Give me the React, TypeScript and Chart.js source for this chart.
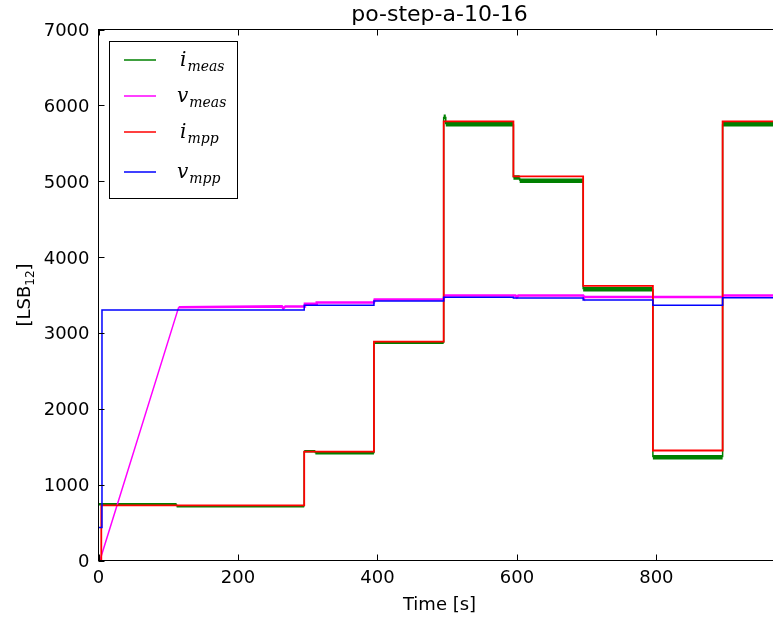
import React, { useEffect, useRef } from "react";
import { Chart, registerables } from "chart.js";

Chart.register(...registerables);

const TITLE = "po-step-a-10-16";
const X_LABEL = "Time [s]";
const X_MAX = 978;
const Y_MAX = 7000;
const X_TICKS = [0, 200, 400, 600, 800, 1000];
const Y_TICKS = [0, 1000, 2000, 3000, 4000, 5000, 6000, 7000];

// i_meas (green), step changes: value holds from time t onward
const iMeasT = [0, 112, 295, 311, 395, 495, 498, 595, 604, 695, 795, 895, 978];
const iMeasV = [740, 715, 1440, 1415, 2870, 5850, 5750, 5050, 5005, 3575, 1360, 5750, 5750];

// v_meas (magenta), polyline
const vMeasT = [0, 2, 115, 263, 265, 268, 295, 296, 312, 313, 395, 396, 495, 496, 598, 600, 602, 695, 696, 895, 896, 978];
const vMeasV = [0, 0, 3340, 3350, 3325, 3350, 3350, 3385, 3385, 3400, 3400, 3440, 3440, 3492, 3492, 3470, 3492, 3492, 3475, 3475, 3495, 3495];

// i_mpp (red), step changes
const iMppT = [0, 4, 295, 395, 495, 595, 695, 795, 895, 978];
const iMppV = [0, 726, 1436, 2885, 5790, 5065, 3620, 1450, 5790, 5790];

// v_mpp (blue), step changes
const vMppT = [0, 5, 295, 395, 495, 595, 695, 795, 895, 978];
const vMppV = [435, 3303, 3366, 3420, 3470, 3462, 3435, 3366, 3465, 3465];

const LEGEND = [
  { main: "i", sub: "meas", color: "#008000" },
  { main: "v", sub: "meas", color: "#ff00ff" },
  { main: "i", sub: "mpp", color: "#ff0000" },
  { main: "v", sub: "mpp", color: "#0000ff" },
];

const toPts = (t: number[], v: number[]) => t.map((x, i) => ({ x, y: v[i] }));
// expand step changes into explicit corner points (value held until next change)
const toStepPts = (t: number[], v: number[]) => {
  const out: { x: number; y: number }[] = [{ x: t[0], y: v[0] }];
  for (let i = 1; i < t.length; i++) {
    out.push({ x: t[i], y: v[i - 1] });
    if (v[i] !== v[i - 1]) out.push({ x: t[i], y: v[i] });
  }
  return out;
};

const decorPlugin = {
  id: "decor",
  afterDraw(chart: any) {
    const { ctx, chartArea: a, scales } = chart;
    const xs = scales.x;
    const ys = scales.y;
    ctx.save();
    // frame
    ctx.strokeStyle = "#000";
    ctx.lineWidth = 1;
    ctx.strokeRect(a.left, a.top, a.right - a.left, a.bottom - a.top);
    // inward ticks
    ctx.beginPath();
    for (const v of X_TICKS) {
      if (v > X_MAX) continue;
      const px = Math.round(xs.getPixelForValue(v)) + 0.5;
      ctx.moveTo(px, a.bottom);
      ctx.lineTo(px, a.bottom - 6);
      ctx.moveTo(px, a.top);
      ctx.lineTo(px, a.top + 6);
    }
    for (const v of Y_TICKS) {
      const py = Math.round(ys.getPixelForValue(v)) + 0.5;
      ctx.moveTo(a.left, py);
      ctx.lineTo(a.left + 6, py);
      ctx.moveTo(a.right, py);
      ctx.lineTo(a.right - 6, py);
    }
    ctx.stroke();

    // tick labels
    ctx.fillStyle = "#000";
    ctx.font = '18px "DejaVu Sans"';
    ctx.textBaseline = "alphabetic";
    ctx.textAlign = "center";
    for (const v of X_TICKS) {
      if (v > X_MAX) continue;
      ctx.fillText(String(v), xs.getPixelForValue(v), a.bottom + 22.5);
    }
    ctx.textAlign = "right";
    for (const v of Y_TICKS) {
      ctx.fillText(String(v), a.left - 9, ys.getPixelForValue(v) + 6.5);
    }

    // axis label x
    ctx.textAlign = "center";
    ctx.fillText(X_LABEL, (a.left + a.right) / 2, 610);

    // title
    ctx.font = '22px "DejaVu Sans"';
    ctx.fillText(TITLE, (a.left + a.right) / 2, 21);

    // y label with subscript
    ctx.save();
    ctx.translate(30, (a.top + a.bottom) / 2);
    ctx.rotate(-Math.PI / 2);
    ctx.textAlign = "left";
    const big = '18px "DejaVu Sans"';
    const small = '12px "DejaVu Sans"';
    ctx.font = big;
    const w1 = ctx.measureText("[LSB").width;
    const w3 = ctx.measureText("]").width;
    ctx.font = small;
    const w2 = ctx.measureText("12").width;
    const x0 = -(w1 + w2 + w3) / 2;
    ctx.font = big;
    ctx.fillText("[LSB", x0, 0);
    ctx.font = small;
    ctx.fillText("12", x0 + w1, 4);
    ctx.font = big;
    ctx.fillText("]", x0 + w1 + w2, 0);
    ctx.restore();

    // legend
    ctx.fillStyle = "#fff";
    ctx.fillRect(109.5, 41.5, 128, 157);
    ctx.strokeStyle = "#000";
    ctx.lineWidth = 1;
    ctx.strokeRect(109.5, 41.5, 128, 157);
    const rows = [60, 96, 132, 172];
    LEGEND.forEach((item, i) => {
      const y = rows[i];
      ctx.strokeStyle = item.color;
      ctx.lineWidth = 1.5;
      ctx.beginPath();
      ctx.moveTo(124, y);
      ctx.lineTo(156, y);
      ctx.stroke();
      ctx.fillStyle = "#000";
      ctx.textAlign = "left";
      ctx.font = 'italic 20px "DejaVu Serif"';
      const tx = item.main === "i" ? 180 : 177;
      ctx.fillText(item.main, tx, y + 6);
      const mw = ctx.measureText(item.main).width;
      ctx.font = 'italic 14px "DejaVu Serif"';
      ctx.fillText(item.sub, tx + mw + 1, y + 11);
    });
    ctx.restore();
  },
};

export default function App() {
  const ref = useRef<HTMLCanvasElement | null>(null);
  useEffect(() => {
    document.body.style.overflow = "hidden";
    document.documentElement.style.overflow = "hidden";
    const canvas = ref.current;
    if (!canvas) return;
    const chart = new Chart(canvas, {
      type: "line",
      data: {
        datasets: [
          {
            label: "i_meas",
            data: toStepPts(iMeasT, iMeasV),
            borderColor: "#008000",
            backgroundColor: "#008000",
            borderWidth: 2.5,
            pointRadius: 0,
            order: 4,
            segment: {
              borderWidth: (c: any) =>
                c.p0.parsed.x === c.p1.parsed.x ? 1.5 : c.p0.parsed.x >= 495 ? 4.5 : 2.5,
            },
          },
          {
            label: "v_meas",
            data: toPts(vMeasT, vMeasV),
            borderColor: "#ff00ff",
            backgroundColor: "#ff00ff",
            borderWidth: 2.5,
            pointRadius: 0,
            order: 3,
            segment: {
              borderWidth: (c: any) => (c.p0.parsed.x < 100 ? 1.5 : 2.5),
            },
          },
          {
            label: "i_mpp",
            data: toPts(iMppT, iMppV),
            borderColor: "#ff0000",
            backgroundColor: "#ff0000",
            borderWidth: 1.8,
            stepped: true,
            pointRadius: 0,
            order: 2,
          },
          {
            label: "v_mpp",
            data: toPts(vMppT, vMppV),
            borderColor: "#0000ff",
            backgroundColor: "#0000ff",
            borderWidth: 1.5,
            stepped: true,
            pointRadius: 0,
            order: 1,
          },
        ],
      },
      options: {
        animation: false,
        responsive: false,
        devicePixelRatio: 1,
        layout: { padding: { left: 98.5, right: 19.5, top: 29.5, bottom: 57.5 } },
        scales: {
          x: { type: "linear", min: 0, max: X_MAX, display: false },
          y: { type: "linear", min: 0, max: Y_MAX, display: false },
        },
        plugins: {
          legend: { display: false },
          title: { display: false },
          tooltip: { enabled: false },
        },
      },
      plugins: [decorPlugin],
    });
    return () => chart.destroy();
  }, []);
  return (
    <div style={{ position: "fixed", left: 0, top: 0, width: 800, height: 618, background: "#fff" }}>
      <canvas ref={ref} width={800} height={618} style={{ width: 800, height: 618, display: "block" }} />
    </div>
  );
}
